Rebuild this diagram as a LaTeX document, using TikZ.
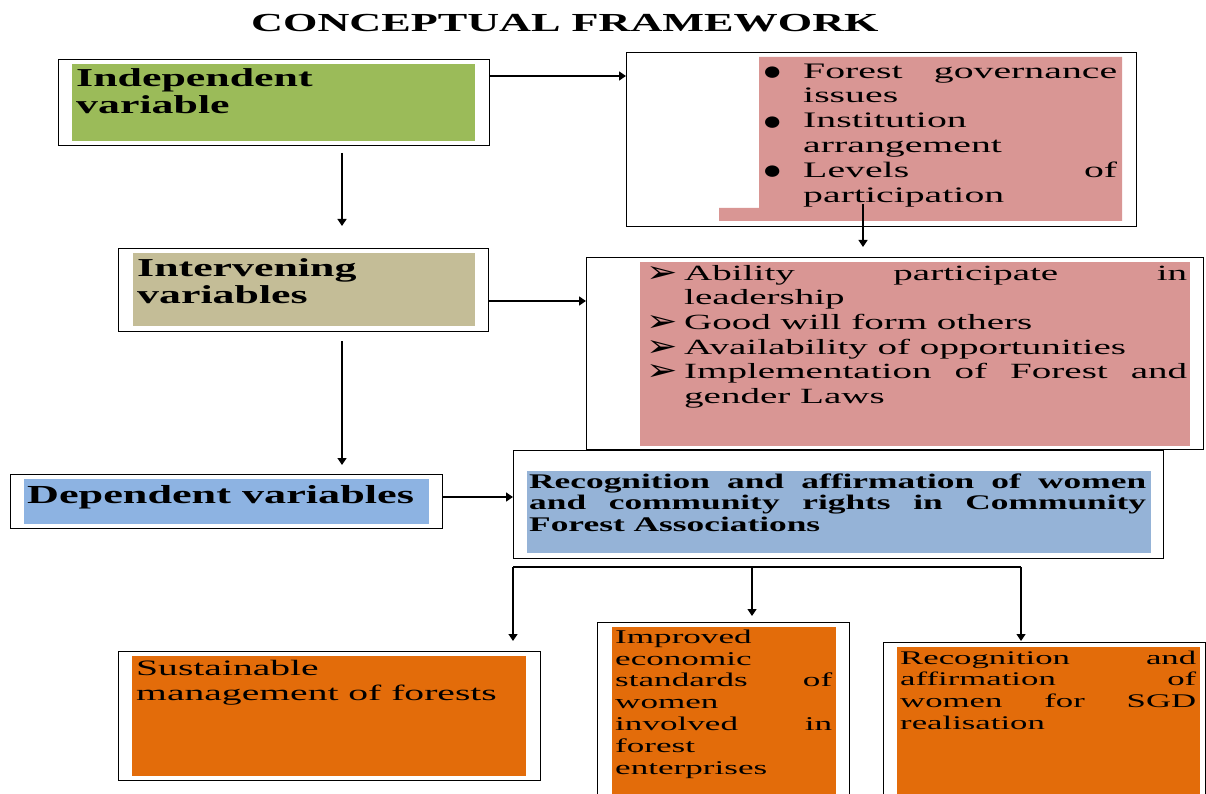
\documentclass[tikz,border=0pt]{standalone}
\usepackage{fontspec}
\newfontfamily\rg[FakeStretch=1.8]{Liberation Serif}
\newfontfamily\bd[FakeStretch=1.7]{Liberation Serif}
\newfontfamily\dv[FakeStretch=1.25]{DejaVu Sans}
\usetikzlibrary{arrows.meta}
\definecolor{cgreen}{HTML}{9BBB59}
\definecolor{ctan}{HTML}{C4BD97}
\definecolor{cpink}{HTML}{D99694}
\definecolor{cblueA}{HTML}{8DB3E2}
\definecolor{cblueB}{HTML}{95B3D7}
\definecolor{corange}{HTML}{E36C0A}
\newcommand\jl[2]{\makebox[#1][s]{#2}}
\newcommand\bul{\makebox[40pt][l]{\hspace{1pt}\raisebox{1.5pt}{\dv\fontsize{15}{15}\selectfont ●}}}
\newcommand\arw{\makebox[38pt][l]{\raisebox{-2pt}{\dv\fontsize{30}{30}\selectfont ➢}}}
\tikzset{
  outer/.style={draw=black, line width=1.3pt, fill=white, inner sep=0pt, anchor=north west},
  txt/.style={anchor=north west, inner sep=0pt, align=left},
  arr/.style={line width=1.3pt, -{Triangle[length=7pt,width=9pt]}},
  conn/.style={line width=1.3pt}
}
\begin{document}
\begin{tikzpicture}[x=1pt,y=-1pt]
\useasboundingbox (0,0) rectangle (1206,794);
% title
\node[anchor=base west, inner sep=0pt, font={\bd\bfseries\fontsize{26}{28}\selectfont}] (title) at (251,32) {CONCEPTUAL FRAMEWORK};

% independent variable
\node[outer, minimum width=431pt, minimum height=86pt] (b1) at (58,59) {};
\fill[cgreen] (72,64) rectangle (475,141);
\node[txt, font={\bd\bfseries\fontsize{25.8}{27}\selectfont}] (t1) at (76,67.1) {\strut Independent\\variable};

% top right box
\node[outer, minimum width=510pt, minimum height=174pt] (b2) at (626,52) {};
\fill[cpink] (759,57) -- (1122,57) -- (1122,221) -- (719,221) -- (719,208) -- (759,208) -- cycle;
\node[txt, font={\rg\fontsize{22.1}{24.8}\selectfont}] (t2) at (763,60.6) {\strut\bul\jl{314pt}{Forest governance}\\
\hspace*{40pt}issues\\
\bul Institution\\
\hspace*{40pt}arrangement\\
\bul\jl{314pt}{Levels of}\\
\hspace*{40pt}participation};

% intervening
\node[outer, minimum width=370pt, minimum height=83pt] (b3) at (118,248) {};
\fill[ctan] (133,253) rectangle (475,326);
\node[txt, font={\bd\bfseries\fontsize{25.8}{27}\selectfont}] (t3) at (137,257) {\strut Intervening\\variables};

% middle right box
\node[outer, minimum width=617pt, minimum height=192pt] (b4) at (586,257) {};
\fill[cpink] (640,262) rectangle (1190,446);
\node[txt, font={\rg\fontsize{21.7}{24.6}\selectfont}] (t4) at (646,262.8) {\strut\arw\jl{503pt}{Ability participate in}\\
\hspace*{38pt}leadership\\
\arw Good will form others\\
\arw Availability of opportunities\\
\arw\jl{503pt}{Implementation of Forest and}\\
\hspace*{38pt}gender Laws};

% dependent
\node[outer, minimum width=432pt, minimum height=54pt] (b5) at (10,474) {};
\fill[cblueA] (24,479) rectangle (429,524);
\node[anchor=base west, inner sep=0pt, font={\bd\bfseries\fontsize{26}{28}\selectfont}] (t5) at (27,503) {Dependent variables};

% recognition box
\node[outer, minimum width=650pt, minimum height=108pt] (b6) at (513,450) {};
\fill[cblueB] (527,471) rectangle (1151,553);
\node[txt, font={\bd\bfseries\fontsize{20.8}{21.5}\selectfont}] (t6) at (529,473) {\strut\jl{617pt}{Recognition and affirmation of women}\\
\jl{617pt}{and community rights in Community}\\
Forest Associations};

% bottom boxes
\node[outer, minimum width=422pt, minimum height=129pt] (b7) at (118,651) {};
\fill[corange] (132,656) rectangle (526,776);
\node[txt, font={\rg\fontsize{22}{25}\selectfont}] (t7) at (136,657.5) {\strut Sustainable\\management of forests};

\node[outer, minimum width=252pt, minimum height=190pt] (b8) at (597,622) {};
\fill[corange] (612,627) rectangle (836,800);
\node[txt, font={\rg\fontsize{19.5}{21.83}\selectfont}] (t8) at (615,627.7) {\strut Improved\\
economic\\
\jl{217pt}{standards of}\\
women\\
\jl{217pt}{involved in}\\
forest\\
enterprises};

\node[outer, minimum width=322pt, minimum height=170pt] (b9) at (883,642) {};
\fill[corange] (897,647) rectangle (1200,800);
\node[txt, font={\rg\fontsize{19.3}{21.7}\selectfont}] (t9) at (900,648.8) {\strut\jl{296pt}{Recognition and}\\
\jl{296pt}{affirmation of}\\
\jl{296pt}{women for SGD}\\
realisation};

% connectors
\coordinate (p1) at ([yshift=-17pt]b1.north east);
\draw[arr] (p1) -- (p1 -| b2.west);
\coordinate (d1s) at (342,153);
\coordinate (d1e) at (342,226);
\draw[arr] (d1s) -- (d1e);
\coordinate (d2s) at (863,204);
\coordinate (d2e) at (863,247);
\draw[arr] (d2s) -- (d2e);
\coordinate (p3) at ([yshift=-53pt]b3.north east);
\draw[arr] (p3) -- (p3 -| b4.west);
\coordinate (d3s) at (342,341);
\coordinate (d3e) at (342,465);
\draw[arr] (d3s) -- (d3e);
\coordinate (p5) at ([yshift=-23pt]b5.north east);
\draw[arr] (p5) -- (p5 -| b6.west);
\coordinate (hL) at (513,567);
\coordinate (hM) at (752,567);
\coordinate (hR) at (1021,567);
\draw[conn] (hL) -- (hR);
\coordinate (eL) at (513,641);
\coordinate (eM) at (752,616);
\coordinate (eR) at (1021,641);
\draw[arr] (hL) -- (eL);
\draw[arr] (hM) -- (eM);
\draw[arr] (hR) -- (eR);
\end{tikzpicture}
\end{document}
